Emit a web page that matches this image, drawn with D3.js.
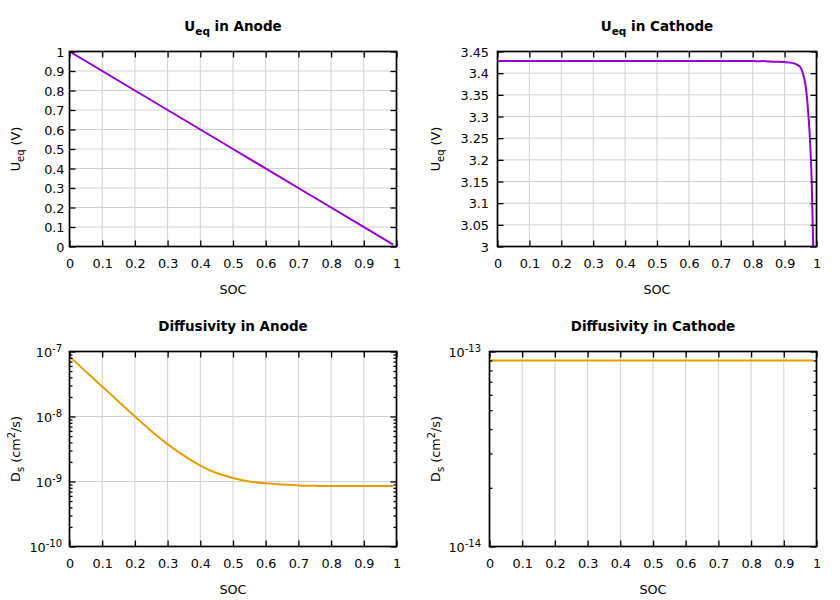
<!DOCTYPE html>
<html><head><meta charset="utf-8">
<script src="https://cdn.jsdelivr.net/npm/d3@7"></script>
<style>
body{margin:0;background:#fff;}
svg text{font-family:"DejaVu Sans",sans-serif;fill:#000;}
</style></head><body><svg id="c" width="840" height="600"></svg>
<script>
// ---------- data ----------
const xTicks = [0,0.1,0.2,0.3,0.4,0.5,0.6,0.7,0.8,0.9,1];
const xTickLabels = ["0","0.1","0.2","0.3","0.4","0.5","0.6","0.7","0.8","0.9","1"];

const anodeSoc = [0, 0.25, 0.5, 0.75, 0.99];
const anodeUeq = [1, 0.75, 0.5, 0.25, 0.01];
const anodeUTicks = [0,0.1,0.2,0.3,0.4,0.5,0.6,0.7,0.8,0.9,1];
const anodeUTickLabels = ["0","0.1","0.2","0.3","0.4","0.5","0.6","0.7","0.8","0.9","1"];

const cathodeSoc = [0, 0.2, 0.4, 0.6, 0.8, 0.82, 0.83, 0.85, 0.88, 0.9, 0.92, 0.93, 0.94, 0.95, 0.955, 0.96, 0.965, 0.97, 0.975, 0.98, 0.985, 0.99];
const cathodeUeq = [3.428, 3.428, 3.428, 3.428, 3.428, 3.4273, 3.428, 3.4268, 3.4262, 3.4255, 3.424, 3.4225, 3.419, 3.413, 3.405, 3.392, 3.375, 3.345, 3.30, 3.24, 3.15, 2.99];
const cathodeUTicks = [3,3.05,3.1,3.15,3.2,3.25,3.3,3.35,3.4,3.45];
const cathodeUTickLabels = ["3","3.05","3.1","3.15","3.2","3.25","3.3","3.35","3.4","3.45"];

const anodeDsSoc = [0,0.05,0.1,0.15,0.2,0.25,0.3,0.35,0.4,0.45,0.5,0.55,0.6,0.65,0.7,0.75,0.8,0.85,0.9,0.95,0.99];
const anodeDs = [8.4e-8,4.9e-8,2.9e-8,1.7e-8,1.0e-8,6.0e-9,3.76e-9,2.5e-9,1.76e-9,1.35e-9,1.13e-9,1.0e-9,9.4e-10,9.0e-10,8.7e-10,8.6e-10,8.5e-10,8.5e-10,8.5e-10,8.5e-10,8.5e-10];
const anodeDsTickExp = [-10,-9,-8,-7];

const cathodeDsSoc = [0, 0.99];
const cathodeDs = [9e-14, 9e-14];
const cathodeDsTickExp = [-14,-13];

// ---------- drawing ----------
const svg = d3.select("#c");
const gridColor = "#d0d0d0";
const purple = "#9400d3", orange = "#e69f00";
const FS = 12.8, TFS = 13.5;

function rich(sel, parts, size) {
  let shift = 0;
  parts.forEach(p => {
    const target = p.s === "sub" ? 4 : p.s === "sup" ? -5 : 0;
    sel.append("tspan").text(p.t)
      .attr("font-size", p.s ? size * 0.78 : size)
      .attr("dy", target - shift);
    shift = target;
  });
}

function panel(o) {
  const g = svg.append("g");
  const x = d3.scaleLinear().domain([0, 1]).range([o.x0, o.x1]);
  const y = (o.log ? d3.scaleLog() : d3.scaleLinear()).domain(o.yDomain).range([o.y1, o.y0]);

  // grid
  g.append("g").selectAll("line").data(xTicks).join("line")
    .attr("x1", d => x(d)).attr("x2", d => x(d))
    .attr("y1", o.y0).attr("y2", o.y1)
    .attr("stroke", gridColor).attr("stroke-width", 1);
  g.append("g").selectAll("line").data(o.yTicks).join("line")
    .attr("x1", o.x0).attr("x2", o.x1)
    .attr("y1", d => y(d)).attr("y2", d => y(d))
    .attr("stroke", gridColor).attr("stroke-width", 1);

  // data line
  const cid = "clip" + o.id;
  svg.append("clipPath").attr("id", cid).append("rect")
    .attr("x", o.x0).attr("y", o.y0).attr("width", o.x1 - o.x0).attr("height", o.y1 - o.y0);
  const pts = o.xs.map((v, i) => [v, o.ys[i]]);
  g.append("path").datum(pts)
    .attr("d", d3.line().x(d => x(d[0])).y(d => y(d[1])).curve(d3.curveMonotoneX))
    .attr("fill", "none").attr("stroke", o.color).attr("stroke-width", 2)
    .attr("stroke-linejoin", "round")
    .attr("clip-path", `url(#${cid})`);

  // axes (inward ticks, mirrored)
  const styleAxis = a => {
    a.select(".domain").remove();
    a.selectAll("line").attr("stroke", "#000").attr("stroke-width", 1.3);
    a.attr("font-family", null).attr("font-size", FS);
  };
  const bottom = g.append("g").attr("transform", `translate(0,${o.y1})`)
    .call(d3.axisBottom(x).tickValues(xTicks).tickSizeInner(-6).tickSizeOuter(0).tickPadding(12)
      .tickFormat((d, i) => xTickLabels[i]));
  styleAxis(bottom);
  const top = g.append("g").attr("transform", `translate(0,${o.y0})`)
    .call(d3.axisTop(x).tickValues(xTicks).tickSizeInner(-6).tickSizeOuter(0).tickFormat(""));
  styleAxis(top);

  const left = g.append("g").attr("transform", `translate(${o.x0},0)`)
    .call(d3.axisLeft(y).tickValues(o.yTicks).tickSizeInner(-6).tickSizeOuter(0)
      .tickPadding(o.x0 - o.labelEnd).tickFormat((d, i) => o.log ? "" : o.yTickLabels[i]));
  styleAxis(left);
  const right = g.append("g").attr("transform", `translate(${o.x1},0)`)
    .call(d3.axisRight(y).tickValues(o.yTicks).tickSizeInner(-6).tickSizeOuter(0).tickFormat(""));
  styleAxis(right);

  if (o.log) {
    left.selectAll(".tick text").each(function (d) {
      const t = d3.select(this).text("").attr("dy", null).attr("y", 4.6);
      const e = Math.round(Math.log10(d));
      rich(t, [{ t: "10" }, { t: String(e), s: "sup" }], FS);
    });
    const minors = [];
    const [lo, hi] = o.yDomain;
    for (let e = Math.round(Math.log10(lo)); e < Math.round(Math.log10(hi)); e++)
      for (let m = 2; m <= 9; m++) minors.push(m * Math.pow(10, e));
    const ml = g.append("g").attr("transform", `translate(${o.x0},0)`)
      .call(d3.axisLeft(y).tickValues(minors).tickSizeInner(-3).tickSizeOuter(0).tickFormat(""));
    styleAxis(ml);
    const mr = g.append("g").attr("transform", `translate(${o.x1},0)`)
      .call(d3.axisRight(y).tickValues(minors).tickSizeInner(-3).tickSizeOuter(0).tickFormat(""));
    styleAxis(mr);
  } else {
    left.selectAll(".tick text").attr("dy", null).attr("y", 4.6);
  }

  // frame
  g.append("rect").attr("x", o.x0).attr("y", o.y0)
    .attr("width", o.x1 - o.x0).attr("height", o.y1 - o.y0)
    .attr("fill", "none").attr("stroke", "#000").attr("stroke-width", 1.7);

  // title
  const tt = g.append("text").attr("x", (o.x0 + o.x1) / 2).attr("y", o.y0 - 20.5)
    .attr("text-anchor", "middle").attr("font-weight", "bold");
  rich(tt, o.title, TFS);

  // x label
  g.append("text").attr("x", (o.x0 + o.x1) / 2).attr("y", o.y1 + 47.5)
    .attr("text-anchor", "middle").attr("font-size", FS).text("SOC");

  // y label
  const yl = g.append("text")
    .attr("transform", `translate(${o.ylabelX},${(o.y0 + o.y1) / 2}) rotate(-90)`)
    .attr("text-anchor", "middle");
  rich(yl, o.ylabel, FS);
}

const uLabel = [{ t: "U" }, { t: "eq", s: "sub" }, { t: " (V)" }];
const dLabel = [{ t: "D" }, { t: "s", s: "sub" }, { t: " (cm" }, { t: "2", s: "sup" }, { t: "/s)" }];

panel({ id: 1, x0: 69.5, x1: 396.5, y0: 51.5, y1: 246.5, yDomain: [0, 1],
  yTicks: anodeUTicks, yTickLabels: anodeUTickLabels, labelEnd: 64.5,
  xs: anodeSoc, ys: anodeUeq, color: purple, ylabelX: 19.5,
  title: [{ t: "U" }, { t: "eq", s: "sub" }, { t: " in Anode" }], ylabel: uLabel });

panel({ id: 2, x0: 497.5, x1: 816.5, y0: 51.5, y1: 246.5, yDomain: [3, 3.45],
  yTicks: cathodeUTicks, yTickLabels: cathodeUTickLabels, labelEnd: 489,
  xs: cathodeSoc, ys: cathodeUeq, color: purple, ylabelX: 439.5,
  title: [{ t: "U" }, { t: "eq", s: "sub" }, { t: " in Cathode" }], ylabel: uLabel });

panel({ id: 3, x0: 69.5, x1: 396.5, y0: 351.5, y1: 546.5, log: true, yDomain: [1e-10, 1e-7],
  yTicks: anodeDsTickExp.map(e => Math.pow(10, e)), labelEnd: 62,
  xs: anodeDsSoc, ys: anodeDs, color: orange, ylabelX: 19.5,
  title: [{ t: "Diffusivity in Anode" }], ylabel: dLabel });

panel({ id: 4, x0: 489.5, x1: 816.5, y0: 351.5, y1: 546.5, log: true, yDomain: [1e-14, 1e-13],
  yTicks: cathodeDsTickExp.map(e => Math.pow(10, e)), labelEnd: 481,
  xs: cathodeDsSoc, ys: cathodeDs, color: orange, ylabelX: 439.5,
  title: [{ t: "Diffusivity in Cathode" }], ylabel: dLabel });
</script></body></html>
